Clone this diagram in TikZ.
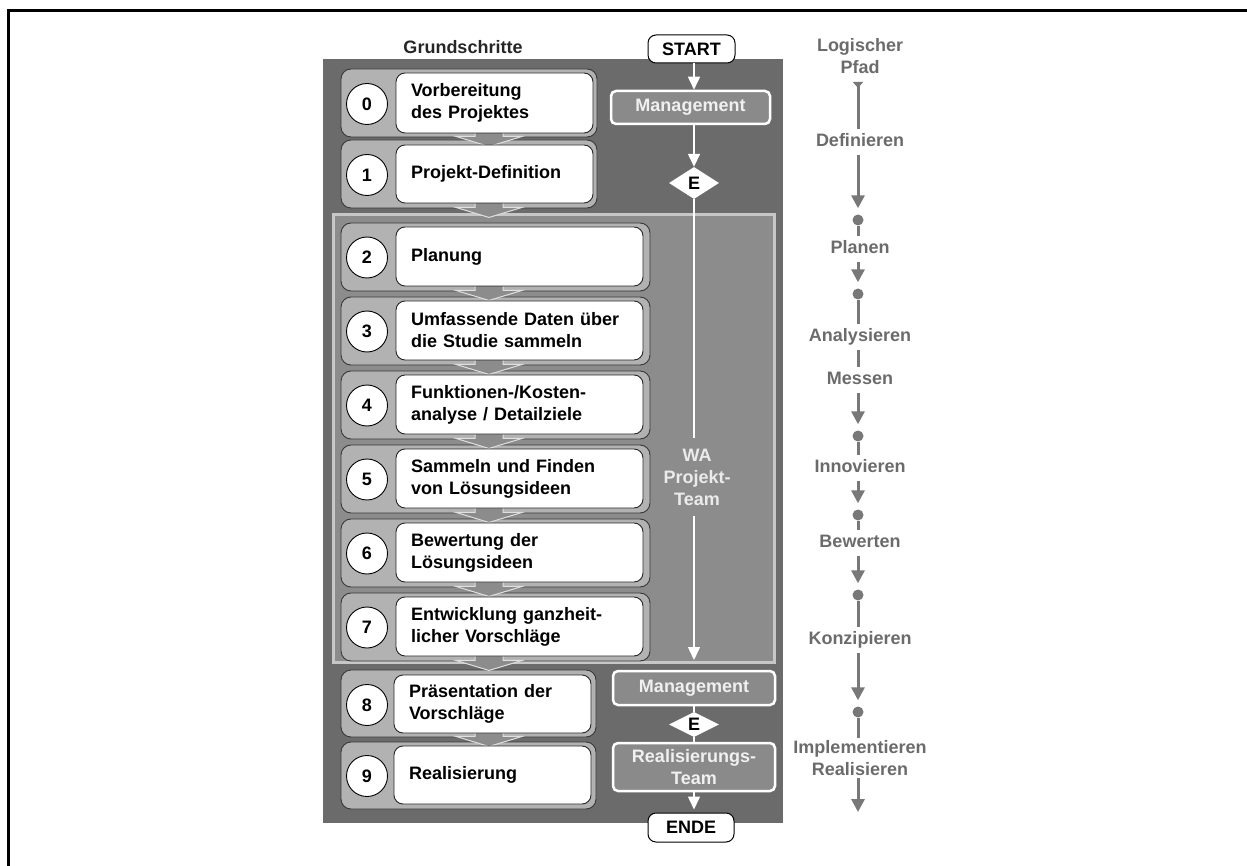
\documentclass[tikz,border=0pt]{standalone}
\usepackage{fontspec}
\setmainfont{Liberation Sans}
\usetikzlibrary{arrows.meta,calc,shapes.geometric}

\definecolor{panelgray}{gray}{0.42}
\definecolor{wagray}{gray}{0.55}
\definecolor{waborder}{gray}{0.78}
\definecolor{stepgray}{gray}{0.70}
\definecolor{stepline}{gray}{0.22}
\definecolor{arrowgray}{gray}{0.55}
\definecolor{arrowline}{gray}{0.88}
\definecolor{mgmtgray}{gray}{0.54}
\definecolor{lpgray}{gray}{0.47}
\definecolor{lptextgray}{gray}{0.42}

% outer grey frame of a step
\newcommand\obox[4]{%
  \node[outerbox, minimum width={#4-341}, minimum height={#3-#2}]
    (o#1) at ({(341+#4)/2},{(#2+#3)/2}) {};}
% white text box and number circle of a step
\newcommand\ibox[8]{%
  \node[innerbox, text width=#8pt, minimum height={#3-#2}]
    (s#1) at ({(#4+#5)/2},{(#2+#3)/2}) {#7};
  \node[numcircle] (n#1) at (367,{(#2+#3)/2+1}) {#6};}
% block arrow leading out of a step frame
\newcommand\blockarrow[1]{%
  \path[blockarr] ($(#1.south -| ax)+(-14,-6)$) -- ++(0,5) -- ++(-19,0)
    -- ($(#1.south -| ax)+(0,9)$) -- ($(#1.south -| ax)+(33,-1)$)
    -- ++(-19,0) -- ++(0,-5) -- cycle;}

\begin{document}
\begin{tikzpicture}[x=1pt,y=-1pt,
  every node/.style={font=\fontsize{18}{22}\selectfont\bfseries},
  outerbox/.style={draw=stepline, fill=stepgray, line width=0.9pt, rounded corners=10pt, inner sep=0pt},
  innerbox/.style={draw=black!85, fill=white, line width=0.9pt, rounded corners=9pt, align=left, inner xsep=15pt, inner ysep=0pt},
  numcircle/.style={circle, draw=black, fill=white, line width=0.9pt, minimum size=41pt, inner sep=0pt},
  blockarr/.style={fill=arrowgray, draw=arrowline, line width=1pt, line join=miter},
  mgmt/.style={draw=white, fill=mgmtgray, line width=2.5pt, rounded corners=5pt, text=white!94!black, align=center, inner sep=0pt},
  termbox/.style={draw=black, fill=white, line width=1pt, rounded corners=8pt, inner sep=0pt},
  edia/.style={diamond, aspect=1.6, fill=white, inner sep=0pt},
  wline/.style={draw=white, line width=1.5pt},
  warrow/.style={wline, -{Triangle[width=12pt,length=13pt]}},
  watext/.style={text=white!92!black, align=center, inner xsep=0pt, inner ysep=11pt},
  lpline/.style={draw=lpgray, line width=3pt},
  lparrow/.style={lpline, -{Triangle[width=13pt,length=13pt]}, shorten >=6pt},
  lptext/.style={text=lptextgray, text height=13pt, text depth=4pt, inner ysep=4pt, inner xsep=0pt},
  lptwo/.style={text=lptextgray, align=center, inner sep=2pt},
  lpdot/.style={circle, fill=lpgray, minimum size=11pt, inner sep=0pt}]

\useasboundingbox (0,0) rectangle (1247,866);

% frame
\draw[line width=3pt] (1247,11) -- (8,11) -- (8,866);

% background panel and team area
\fill[panelgray] (323,59) rectangle (783,823);
\draw[fill=wagray, draw=waborder, line width=3pt] (333,215) rectangle (774,662);

\node[text=black!85] (hdr) at (463,47) {Grundschritte};

% step frames
\obox{0}{69}{137}{597}
\obox{1}{140}{208}{597}
\obox{2}{223}{291}{650}
\obox{3}{297}{365}{650}
\obox{4}{371}{439}{650}
\obox{5}{445}{513}{650}
\obox{6}{519}{587}{650}
\obox{7}{593}{661}{650}
\obox{8}{670}{737}{596}
\obox{9}{742}{809}{596}

% arrows between steps
\coordinate (ax) at (489,0);
\blockarrow{o0}
\blockarrow{o1}
\blockarrow{o2}
\blockarrow{o3}
\blockarrow{o4}
\blockarrow{o5}
\blockarrow{o6}
\blockarrow{o7}
\blockarrow{o8}

% step contents
\ibox{0}{73}{133}{396}{593}{0}{Vorbereitung\\des Projektes}{167}
\ibox{1}{145}{203}{396}{593}{1}{Projekt-Definition}{167}
\ibox{2}{227}{286}{396}{643}{2}{Planung}{217}
\ibox{3}{301}{360}{396}{643}{3}{Umfassende Daten über\\die Studie sammeln}{217}
\ibox{4}{375}{434}{396}{643}{4}{Funktionen-/Kosten-\\analyse / Detailziele}{217}
\ibox{5}{449}{508}{396}{643}{5}{Sammeln und Finden\\von Lösungsideen}{217}
\ibox{6}{523}{582}{396}{643}{6}{Bewertung der\\Lösungsideen}{217}
\ibox{7}{597}{656}{396}{643}{7}{Entwicklung ganzheit-\\licher Vorschläge}{217}
\ibox{8}{675}{733}{394}{591}{8}{Präsentation der\\Vorschläge}{167}
\ibox{9}{746}{804}{394}{591}{9}{Realisierung}{167}

% decision flow
\node[termbox, minimum width=87pt, minimum height=28pt] (start) at (691.5,49) {START};
\node[mgmt, minimum width=159pt, minimum height=33pt] (m1) at (690.5,107.5) {Management};
\node[edia, minimum width=50pt, minimum height=32pt] (e1) at (694,183) {E};
\node[watext] (wa) at (697,477) {WA\\Projekt-\\Team};
\coordinate (waend) at (694,660);
\node[mgmt, minimum width=162pt, minimum height=34pt] (m2) at (694,688) {Management};
\node[edia, minimum width=50pt, minimum height=25pt] (e2) at (694,724.5) {E};
\node[mgmt, minimum width=162pt, minimum height=48pt] (rt) at (694,767) {Realisierungs-\\Team};
\node[termbox, minimum width=86pt, minimum height=29pt] (ende) at (691,827.5) {ENDE};

\draw[warrow] (start.south -| e1) -- (m1.north -| e1);
\draw[warrow] (m1.south -| e1) -- (e1.north);
\draw[wline] (e1.south) -- (e1 |- wa.north);
\draw[warrow] (e1 |- wa.south) -- (waend);
\draw[wline] (m2.south) -- (e2.north);
\draw[wline] (e2.south) -- (rt.north);
\draw[warrow, shorten >=3pt] (rt.south) -- (ende.north -| rt.south);

% logical path
\coordinate (lx) at (858,0);
\node[lptwo] (lp) at (860,56) {Logischer\\Pfad};
\coordinate (lp0) at (858,82);
\node[lptext] (l1) at (860,142) {Definieren};
\node[lpdot] (d1) at (858,220) {};
\node[lptext] (l2) at (860,249) {Planen};
\node[lpdot] (d2) at (858,294) {};
\node[lptext] (l3a) at (860,337) {Analysieren};
\node[lptext] (l3b) at (860,380) {Messen};
\node[lpdot] (d3) at (858,436) {};
\node[lptext] (l4) at (860,468) {Innovieren};
\node[lpdot] (d4) at (858,515) {};
\node[lptext] (l5) at (860,543) {Bewerten};
\node[lpdot] (d5) at (858,595) {};
\node[lptext] (l6) at (860,640) {Konzipieren};
\node[lpdot] (d6) at (858,712) {};
\node[lptwo] (l7) at (860,758) {Implementieren\\Realisieren};
\coordinate (lend) at (858,812);

\draw[lpline, {Triangle[reversed,width=10pt,length=6pt]}-] (lp0) -- (l1.north -| lx);
\draw[lparrow] (l1.south -| lx) -- (d1.north);
\draw[lpline] (d1) -- (l2.north -| lx);
\draw[lparrow] (l2.south -| lx) -- (d2.north);
\draw[lpline] (d2) -- (l3a.north -| lx);
\draw[lpline] (l3a.south -| lx) -- (l3b.north -| lx);
\draw[lparrow] (l3b.south -| lx) -- (d3.north);
\draw[lpline] (d3) -- (l4.north -| lx);
\draw[lparrow] (l4.south -| lx) -- (d4.north);
\draw[lpline] (d4) -- (l5.north -| lx);
\draw[lparrow] (l5.south -| lx) -- (d5.north);
\draw[lpline] (d5) -- (l6.north -| lx);
\draw[lparrow] (l6.south -| lx) -- (d6.north);
\draw[lpline] (d6) -- (l7.north -| lx);
\draw[lparrow, shorten >=0pt] (l7.south -| lx) -- (lend);

\end{tikzpicture}
\end{document}
